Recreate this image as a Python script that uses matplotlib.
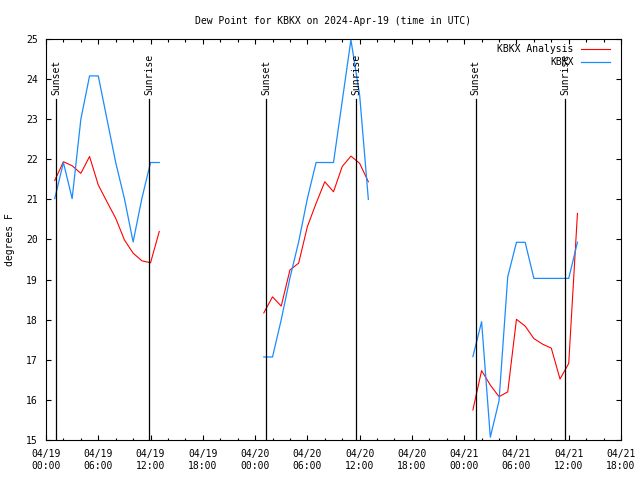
import numpy as np
import pandas as pd
import matplotlib
matplotlib.use('Agg')
import matplotlib.pyplot as plt
import matplotlib.dates as mdates

plt.rcParams['font.family'] = 'DejaVu Sans Mono'
plt.rcParams['font.size'] = 7

start = pd.Timestamp('2024-04-19 00:00')

# hours after 04/19 00:00 UTC
hours = [1, 2, 3, 4, 5, 6, 7, 8, 9, 10, 11, 12, 13,
         25, 26, 27, 28, 29, 30, 31, 32, 33, 34, 35, 36, 37,
         49, 50, 51, 52, 53, 54, 55, 56, 57, 58, 59, 60, 61]

analysis = [21.47, 21.94, 21.84, 21.65, 22.07, 21.36, 20.94, 20.53, 19.99, 19.66, 19.47, 19.42, 20.20,
            18.17, 18.57, 18.34, 19.24, 19.41, 20.32, 20.90, 21.44, 21.19, 21.82, 22.08, 21.90, 21.44,
            15.75, 16.73, 16.37, 16.08, 16.20, 18.01, 17.84, 17.53, 17.39, 17.29, 16.52, 16.91, 20.65]

observed = [21.02, 21.92, 21.02, 23.00, 24.08, 24.08, 23.00, 21.92, 21.02, 19.94, 21.02, 21.92, 21.92,
            17.07, 17.07, 18.00, 19.04, 19.94, 21.02, 21.92, 21.92, 21.92, 23.45, 24.98, 23.60, 21.00,
            17.08, 17.95, 15.07, 15.98, 19.07, 19.93, 19.93, 19.03, 19.03, 19.03, 19.03, 19.03, 19.93]

sunset_hours = [1.15, 25.26, 49.3]
sunrise_hours = [11.83, 35.6, 59.6]

t = start + pd.to_timedelta(hours, unit='h')
# break the line where the data has gaps
gap = np.r_[False, np.diff(hours) > 3]
tt = []
a = []
o = []
for i in range(len(hours)):
    if gap[i]:
        tt.append(t[i] - pd.Timedelta(hours=1))
        a.append(np.nan)
        o.append(np.nan)
    tt.append(t[i])
    a.append(analysis[i])
    o.append(observed[i])

fig = plt.figure(figsize=(6.4, 4.8), dpi=100)
ax = fig.add_axes([46/640, 1-440/480, 575/640, 401/480])

ax.plot(tt, a, color='#ff0000', lw=0.8)
ax.plot(tt, o, color='#1a8cff', lw=0.9)

for h in sunset_hours:
    x = start + pd.Timedelta(hours=h)
    ax.plot([x, x], [15, 23.5], color='black', lw=0.9)
    ax.text(x, 23.6, 'Sunset', rotation=90, ha='center', va='bottom')
for h in sunrise_hours:
    x = start + pd.Timedelta(hours=h)
    ax.plot([x, x], [15, 23.5], color='black', lw=0.9)
    ax.text(x, 23.6, 'Sunrise', rotation=90, ha='center', va='bottom')

ax.set_xlim(start, start + pd.Timedelta(hours=66))
ax.set_ylim(15, 25)
ax.set_yticks(range(15, 26))
ax.xaxis.set_major_locator(mdates.HourLocator(byhour=[0, 6, 12, 18]))
ax.xaxis.set_minor_locator(mdates.HourLocator(interval=2))
ax.xaxis.set_major_formatter(mdates.DateFormatter('%m/%d\n%H:%M'))
ax.tick_params(which='both', direction='in', top=True, right=True, width=0.8)
ax.tick_params(which='major', length=3.6)
ax.tick_params(which='minor', length=1.8)
ax.tick_params(axis='y', pad=5.8)
ax.tick_params(axis='x', pad=6.5)
for lbl in ax.get_xticklabels():
    lbl.set_linespacing(1.25)
for s in ax.spines.values():
    s.set_linewidth(0.8)

# legend drawn gnuplot style
ax.text(0.918, 0.975, 'KBKX Analysis', transform=ax.transAxes, ha='right', va='center')
ax.plot([0.930, 0.981], [0.975, 0.975], transform=ax.transAxes, color='#ff0000', lw=0.8)
ax.text(0.918, 0.943, 'KBKX', transform=ax.transAxes, ha='right', va='center')
ax.plot([0.930, 0.981], [0.943, 0.943], transform=ax.transAxes, color='#1a8cff', lw=0.9)

fig.text(333/640, 1-20.7/480, 'Dew Point for KBKX on 2024-Apr-19 (time in UTC)', ha='center', va='center')
fig.text(10.5/640, 1-240/480, 'degrees F', rotation=90, ha='center', va='center')

fig.savefig('out.png', dpi=100)
